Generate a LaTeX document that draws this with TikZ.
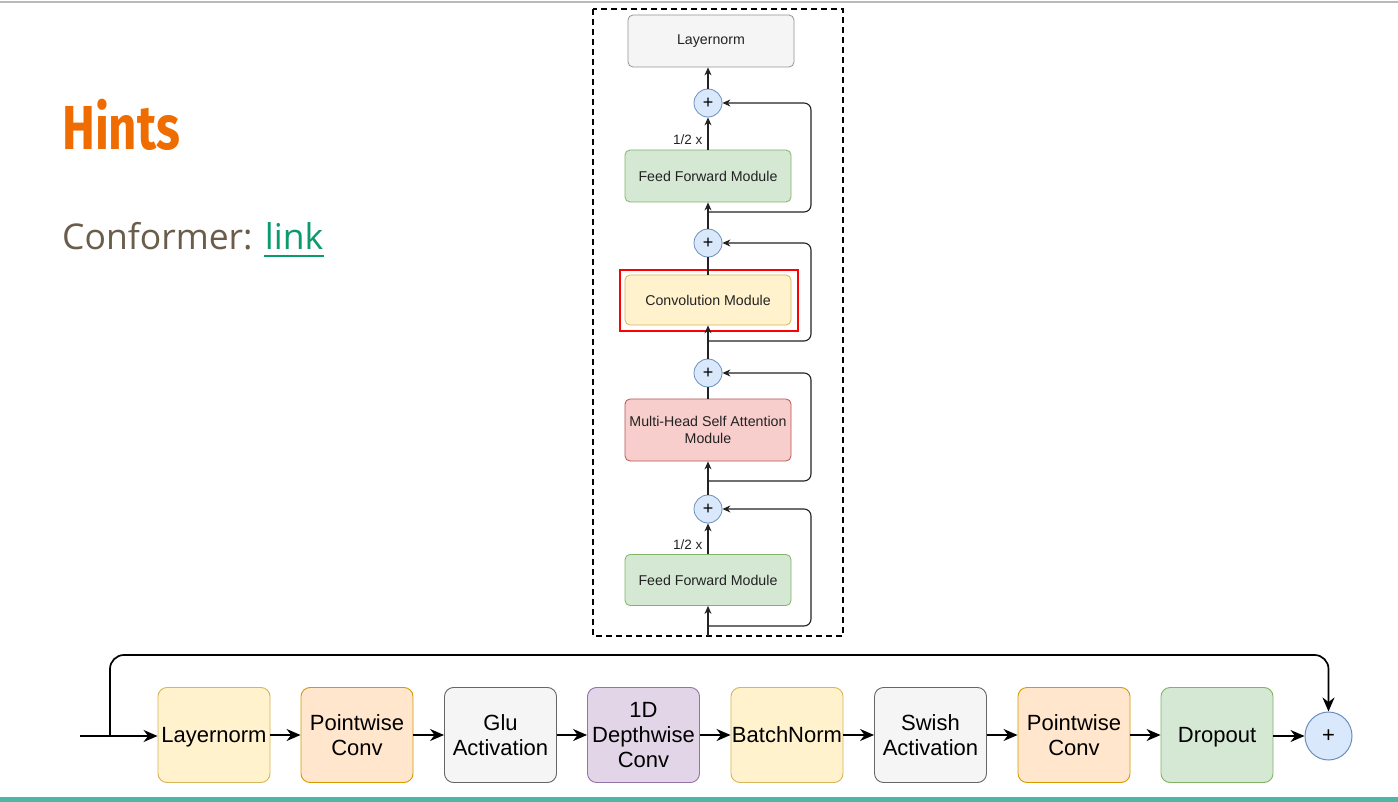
\documentclass[tikz,border=0pt]{standalone}
\usepackage{fontspec}
\usepackage{graphicx}
\usetikzlibrary{arrows.meta,shapes.geometric}
\newfontfamily\arialf{Liberation Sans}
\newfontfamily\osansf{Open Sans}
\newfontfamily\firaf{Fira Sans}
\definecolor{hintorange}{HTML}{EF6C00}
\definecolor{bodytext}{HTML}{6B5D4B}
\definecolor{linkgreen}{HTML}{0B9A6D}
\definecolor{tealbar}{HTML}{4DB6A6}
\definecolor{grayfill}{HTML}{F5F5F5}
\definecolor{grayline}{HTML}{666666}
\definecolor{greenfill}{HTML}{D5E8D4}
\definecolor{greenline}{HTML}{82B366}
\definecolor{yellowfill}{HTML}{FFF2CC}
\definecolor{yellowline}{HTML}{D6B656}
\definecolor{pinkfill}{HTML}{F8CECC}
\definecolor{pinkline}{HTML}{B85450}
\definecolor{orangefill}{HTML}{FFE6CC}
\definecolor{orangeline}{HTML}{D79B00}
\definecolor{purplefill}{HTML}{E1D5E7}
\definecolor{purpleline}{HTML}{9673A6}
\definecolor{bluefill}{HTML}{DAE8FC}
\definecolor{blueline}{HTML}{6C8EBF}
\definecolor{wire}{HTML}{222222}
\tikzset{
  tbox/.style={draw, rounded corners=5pt, minimum width=166pt, minimum height=52pt,
    align=center, text=wire, line width=0.8pt, inner sep=1pt,
    font=\arialf\fontsize{14.2}{17}\selectfont},
  tplus/.style={circle, draw=blueline, fill=bluefill, minimum size=28pt, inner sep=0pt,
    line width=0.8pt, font=\arialf\fontsize{18}{18}\selectfont},
  tarrow/.style={draw=wire, line width=1.1pt, -{Stealth[length=8pt,width=7pt]}},
  tline/.style={draw=wire, line width=1.1pt},
  halflabel/.style={left, pos=0.3, font=\arialf\fontsize{13.5}{13.5}\selectfont, text=wire, inner sep=5pt},
  bbox/.style={draw, rounded corners=9pt, minimum width=112pt, minimum height=95pt,
    align=center, text=black, line width=0.9pt, inner sep=1pt,
    font=\arialf\fontsize{22}{25}\selectfont},
  onebox/.style={bbox, text height=16pt, text depth=2pt},
  barrow/.style={draw=black, line width=1.7pt, -{Stealth[length=14pt,width=12pt]}},
}
\begin{document}
\begin{tikzpicture}[x=1pt,y=-1pt]
\useasboundingbox (0,0) rectangle (1398,802);
\fill[white] (0,0) rectangle (1398,802);
\draw[gray!55, line width=1.2pt] (0,2) -- (1398,2);
\fill[tealbar] (0,797) rectangle (1398,802);

% left texts
\node[anchor=base west, inner sep=0pt, text=hintorange] (hints) at (62,150)
  {\scalebox{0.77}[0.97]{\firaf\bfseries\fontsize{64}{64}\selectfont Hints}};
\node[anchor=base west, inner sep=0pt, text=bodytext] (conf) at (62,250)
  {\osansf\fontsize{35.5}{40}\selectfont Conformer: \textcolor{linkgreen}{link}};
\draw[linkgreen, line width=2.2pt] (264,256) -- (324,256);

% dashed frame
\draw[black, line width=1.5pt, dash pattern=on 6pt off 4pt] (593,9) rectangle (843,636);

% top diagram
\node[tbox, fill=grayfill, draw=grayline!70] (ln) at (711,41) {Layernorm};
\node[tplus] (p1) at (708,103) {+};
\node[tbox, fill=greenfill, draw=greenline] (ff1) at (708,176) {Feed Forward Module};
\node[tplus] (p2) at (708,243) {+};
\node[tbox, fill=yellowfill, draw=yellowline, minimum height=50pt] (conv) at (708,300) {Convolution Module};
\draw[red, line width=2.6pt] (620,270) rectangle (798,331);
\node[tplus] (p3) at (708,373) {+};
\node[tbox, fill=pinkfill, draw=pinkline, minimum height=62pt] (mhsa) at (708,430) {Multi-Head Self Attention\\Module};
\node[tplus] (p4) at (708,509) {+};
\node[tbox, fill=greenfill, draw=greenline, minimum height=51pt] (ff2) at (708,580) {Feed Forward Module};

\coordinate (in) at (708,636);
\coordinate (b1) at (708,626);
\coordinate (b2) at (708,481);
\coordinate (b3) at (708,341);
\coordinate (b4) at (708,212);

\draw[tarrow] (in) -- (ff2.south);
\draw[tarrow] (ff2.north) -- node[halflabel] {1/2 x} (p4.south);
\draw[tarrow] (p4.north) -- (mhsa.south);
\draw[tline] (mhsa.north) -- (p3.south);
\draw[tarrow] (p3.north) -- (conv.south);
\draw[tline] (conv.north) -- (p2.south);
\draw[tarrow] (p2.north) -- (ff1.south);
\draw[tarrow] (ff1.north) -- node[halflabel] {1/2 x} (p1.south);
\draw[tarrow] (p1.north) -- (p1.north |- ln.south);

\draw[tarrow, rounded corners=7pt] (b1) -| (811,509) -- (p4.east);
\draw[tarrow, rounded corners=7pt] (b2) -| (811,373) -- (p3.east);
\draw[tarrow, rounded corners=7pt] (b3) -| (811,243) -- (p2.east);
\draw[tarrow, rounded corners=7pt] (b4) -| (811,103) -- (p1.east);

% bottom convolution module
\node[onebox, fill=yellowfill, draw=yellowline] (c1) at (214,735) {Layernorm};
\node[bbox, fill=orangefill, draw=orangeline] (c2) at (357,735) {Pointwise\\Conv};
\node[bbox, fill=grayfill, draw=grayline] (c3) at (500.5,735) {Glu\\Activation};
\node[bbox, fill=purplefill, draw=purpleline] (c4) at (643.5,735) {1D\\Depthwise\\Conv};
\node[onebox, fill=yellowfill, draw=yellowline] (c5) at (787,735) {BatchNorm};
\node[bbox, fill=grayfill, draw=grayline] (c6) at (930.5,735) {Swish\\Activation};
\node[bbox, fill=orangefill, draw=orangeline] (c7) at (1074,735) {Pointwise\\Conv};
\node[onebox, fill=greenfill, draw=greenline] (c8) at (1217,735) {Dropout};
\node[ellipse, draw=blueline, fill=bluefill, minimum width=47pt, minimum height=48pt, inner sep=0pt,
  line width=1pt, font=\arialf\fontsize{22}{22}\selectfont] (bp) at (1328.5,736) {+};

\coordinate (bin) at (80,736);
\coordinate (bsk) at (110,736);
\draw[barrow] (bin) -- (c1.west |- bin);
\draw[barrow] (c1) -- (c2);
\draw[barrow] (c2) -- (c3);
\draw[barrow] (c3) -- (c4);
\draw[barrow] (c4) -- (c5);
\draw[barrow] (c5) -- (c6);
\draw[barrow] (c6) -- (c7);
\draw[barrow] (c7) -- (c8);
\draw[barrow] (c8.east |- bp) -- (bp.west);
\draw[barrow, rounded corners=14pt] (bsk) -- (110,655) -- (1328.5,655) -- (bp.north);
\end{tikzpicture}
\end{document}
